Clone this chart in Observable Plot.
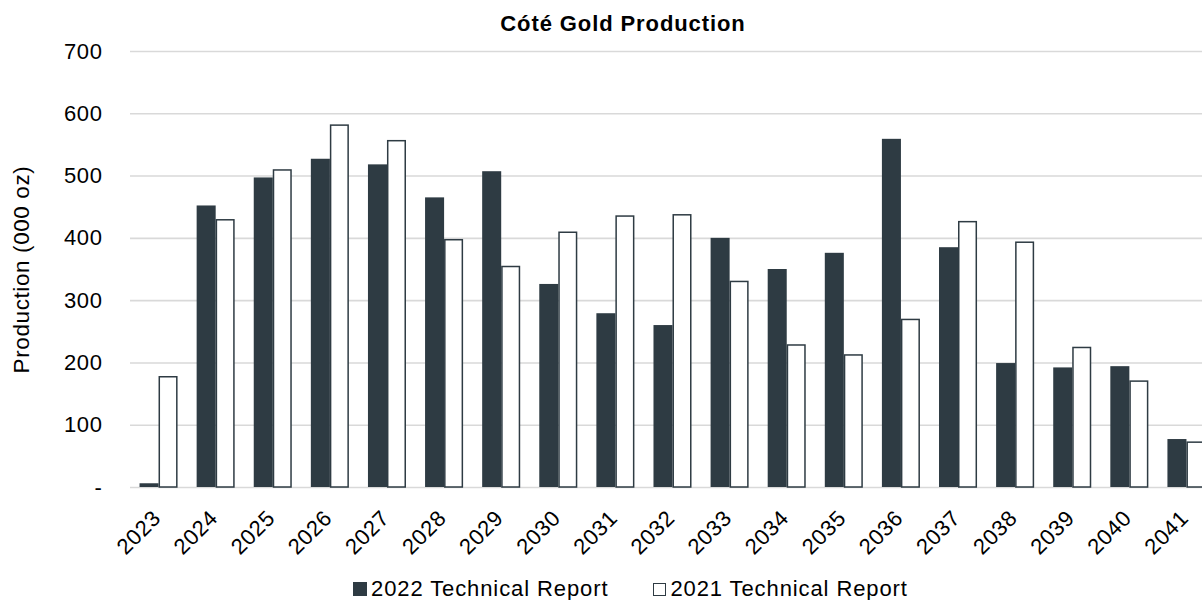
<!DOCTYPE html>
<html>
<head>
<meta charset="utf-8">
<script src="https://cdn.jsdelivr.net/npm/d3@7"></script>
<script src="https://cdn.jsdelivr.net/npm/@observablehq/plot@0.6"></script>
<style>
  html, body { margin: 0; padding: 0; background: #fff; }
  #wrap { position: relative; width: 1202px; height: 600px; overflow: hidden; font-family: "Liberation Sans", Arial, sans-serif; color: #000; }
  #title { position: absolute; left: 0; top: 11px; width: 1246px; text-align: center; font-weight: bold; font-size: 22px; letter-spacing: 0.9px; line-height: 26px; }
  #chart { position: absolute; left: 0; top: 40px; }
  #legend { position: absolute; left: 353px; top: 577px; display: flex; align-items: center; font-size: 22px; letter-spacing: 0.9px; line-height: 24px; white-space: nowrap; }
  .sw { display: inline-block; box-sizing: border-box; width: 14px; height: 14px; margin-right: 4px; }
  .item { display: flex; align-items: center; }
  .item + .item { margin-left: 45px; }
</style>
</head>
<body>
<div id="wrap">
  <div id="title">Cóté Gold Production</div>
  <div id="chart"></div>
  <div id="legend"></div>
</div>
<script>
const years = ["2023","2024","2025","2026","2027","2028","2029","2030","2031","2032","2033","2034","2035","2036","2037","2038","2039","2040","2041"];
const report2022 = [6,452,497,527,518,465,507,326,279,260,400,350,376,559,385,199,192,194,77];
const report2021 = [177,429,509,581,556,397,354,409,435,437,330,228,212,269,426,393,224,170,72];
const seriesNames = ["2022 Technical Report", "2021 Technical Report"];
const yTicks = [0,100,200,300,400,500,600,700];

const dark = "#2e3b43";
const rows2022 = years.map((y, i) => ({year: y, value: report2022[i]}));
const rows2021 = years.map((y, i) => ({year: y, value: report2021[i]}));

const chart = Plot.plot({
  width: 1202,
  height: 520,
  marginLeft: 130,
  marginRight: -13,
  marginTop: 11,
  marginBottom: 73,
  style: {fontFamily: "'Liberation Sans', Arial, sans-serif", fontSize: "22px", letterSpacing: "0.6px", color: "#000", background: "#fff", overflow: "hidden"},
  x: {domain: years, paddingInner: 0.334, paddingOuter: 0.167, align: 0.5, round: false},
  y: {domain: [0, 700]},
  marks: [
    Plot.ruleY(yTicks, {stroke: "#d9d9d9", strokeWidth: 1.6}),
    Plot.barY(rows2022, {x: "year", y: "value", fill: dark, insetLeft: 0, insetRight: 19}),
    Plot.barY(rows2021, {x: "year", y: "value", fill: "#fff", stroke: dark, strokeWidth: 1.5, insetLeft: 19.75, insetRight: 0.75}),
    Plot.axisY({ticks: yTicks, tickFormat: d => d === 0 ? "-" : String(d), tickSize: 0, tickPadding: 28, label: null, fontSize: 22}),
    Plot.axisY({ticks: [], tickSize: 0, label: "Production (000 oz)", labelAnchor: "center", labelArrow: "none", labelOffset: 117, fontSize: 22.5}),
    Plot.axisX({tickSize: 0, tickRotate: -45, tickPadding: 27, dx: -2, label: null, fontSize: 22})
  ]
});
document.getElementById("chart").appendChild(chart);

const legend = document.getElementById("legend");
seriesNames.forEach((name, i) => {
  const item = document.createElement("span");
  item.className = "item";
  const sw = document.createElement("span");
  sw.className = "sw";
  if (i === 0) { sw.style.background = dark; }
  else { sw.style.background = "#fff"; sw.style.border = "1.5px solid " + dark; sw.style.width = "13px"; sw.style.height = "13px"; }
  const t = document.createElement("span");
  t.textContent = name;
  item.appendChild(sw);
  item.appendChild(t);
  legend.appendChild(item);
});
</script>
</body>
</html>
